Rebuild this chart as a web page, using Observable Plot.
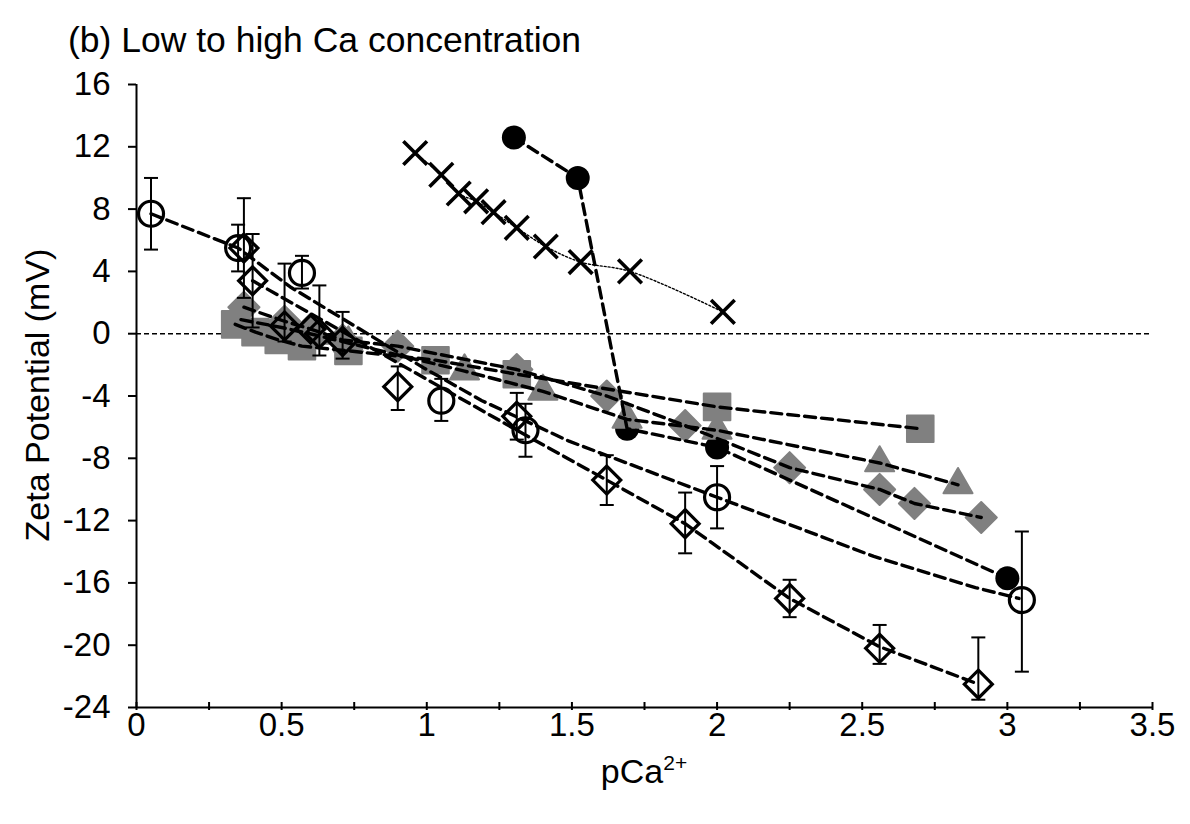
<!DOCTYPE html>
<html>
<head>
<meta charset="utf-8">
<script src="https://cdn.jsdelivr.net/npm/d3@7"></script>
<script src="https://cdn.jsdelivr.net/npm/@observablehq/plot@0.6"></script>
<style>
  body { margin: 0; background: #fff; }
  #chart { width: 1190px; height: 824px; }
</style>
</head>
<body>
<div id="chart"></div>
<script>
// ---------- tick values ----------
const xTickValues = [0, 0.25, 0.5, 0.75, 1, 1.25, 1.5, 1.75, 2, 2.25, 2.5, 2.75, 3, 3.25, 3.5];
const xTickLabels = ["0", "", "0.5", "", "1", "", "1.5", "", "2", "", "2.5", "", "3", "", "3.5"];
const yTickValues = [-24, -20, -16, -12, -8, -4, 0, 4, 8, 12, 16];

// ---------- open circles (with error bars) ----------
const ocX  = [0.05, 0.35, 0.57, 1.05, 1.34, 2.00, 3.05];
const ocY  = [7.7, 5.5, 3.9, -4.3, -6.2, -10.5, -17.1];
const ocLo = [5.4, 4.0, 2.9, -5.6, -7.9, -12.5, -21.7];
const ocHi = [10.0, 7.0, 5.0, -2.9, -4.5, -8.5, -12.7];
// dashed curve drawn with the open circles
const ocLineX = [0.05, 0.35, 0.53, 0.99, 1.19, 1.49, 2.00, 2.54, 2.89, 3.04];
const ocLineY = [7.7, 5.5, 3.0, -2.2, -4.3, -6.9, -10.5, -14.3, -16.3, -17.0];

// ---------- open diamonds (with error bars) ----------
const odX  = [0.37, 0.40, 0.51, 0.60, 0.63, 0.71, 0.90, 1.31, 1.62, 1.89, 2.25, 2.56, 2.90];
const odY  = [5.5, 3.4, 0.5, 0.3, 0.0, -0.5, -3.4, -5.3, -9.4, -12.2, -17.0, -20.2, -22.5];
const odLo = [2.3, 0.4, -0.5, null, -1.4, -1.6, -4.9, -6.8, -11.0, -14.1, -18.2, -21.2, -23.5];
const odHi = [8.7, 6.4, 4.5, null, 3.1, 1.4, -2.1, -3.8, -7.8, -10.2, -15.8, -18.7, -19.5];
// dashed curve drawn with the open diamonds
const odLineX = [0.40, 1.32, 1.62, 1.89, 2.25, 2.56, 2.90];
const odLineY = [3.4, -6.3, -9.4, -12.2, -17.0, -20.1, -22.5];

// ---------- filled black circles ----------
const bcX = [1.30, 1.52, 1.69, 2.00, 3.00];
const bcY = [12.6, 10.0, -6.1, -7.3, -15.7];

// ---------- crosses ----------
const crX = [0.96, 1.05, 1.11, 1.17, 1.23, 1.31, 1.41, 1.53, 1.70, 2.02];
const crY = [11.6, 10.2, 9.0, 8.5, 7.8, 6.8, 5.6, 4.6, 4.0, 1.4];

// ---------- grey squares ----------
const gsX = [0.34, 0.41, 0.49, 0.57, 0.73, 1.03, 1.31, 2.00, 2.70];
const gsY = [0.6, 0.1, -0.4, -0.8, -1.1, -1.7, -2.6, -4.7, -6.1];

// ---------- grey triangles ----------
const gtX = [0.36, 0.50, 0.62, 0.73, 1.13, 1.40, 1.69, 2.00, 2.56, 2.83];
const gtY = [0.9, 0.4, -0.1, -0.6, -2.4, -3.7, -5.5, -6.2, -8.3, -9.7];

// ---------- grey diamonds ----------
const gdX = [0.37, 0.51, 0.60, 0.71, 0.90, 1.31, 1.62, 1.89, 2.25, 2.56, 2.68, 2.91];
const gdY = [1.7, 0.8, 0.3, -0.4, -0.8, -2.3, -4.0, -5.9, -8.6, -10.0, -10.9, -11.8];

const zeroLine = [0];

// ---------- build tables ----------
const rows = (xs, ys) => xs.map((x, i) => ({x, y: ys[i]}));
const errRows = (xs, lo, hi) => xs.map((x, i) => ({x, lo: lo[i], hi: hi[i]})).filter(d => d.lo != null);
const xTicks = xTickValues.map((v, i) => ({v, label: xTickLabels[i]}));

const GREY = "#808080";
const FONT = "'Liberation Sans', Arial, Helvetica, sans-serif";
const capSymbol = {draw(ctx) { ctx.moveTo(-7, 0); ctx.lineTo(7, 0); }};
const dash = {stroke: "black", strokeWidth: 3.4, strokeDasharray: "11,6"};

const ocErr = errRows(ocX, ocLo, ocHi);
const odErr = errRows(odX, odLo, odHi);
const allErr = ocErr.concat(odErr);

const chart = Plot.plot({
  width: 1190,
  height: 824,
  marginLeft: 136,
  marginRight: 38,
  marginTop: 84,
  marginBottom: 117,
  style: {fontFamily: FONT, background: "white", color: "black", overflow: "visible"},
  x: {domain: [0, 3.5]},
  y: {domain: [-24, 16]},
  marks: [
    Plot.ruleY(zeroLine, {stroke: "black", strokeWidth: 1.5, strokeDasharray: "5,3"}),
    // filled black circles
    Plot.dot(rows(bcX, bcY), {x: "x", y: "y", r: 12, fill: "black", stroke: "none"}),
    // grey markers
    Plot.dot(rows(gtX, gtY), {x: "x", y: "y", symbol: "triangle", r: 10.8, fill: GREY, stroke: GREY, strokeWidth: 2, strokeLinejoin: "round"}),
    Plot.dot(rows(gsX, gsY), {x: "x", y: "y", symbol: "square", r: 15, fill: GREY, stroke: GREY, strokeWidth: 2, strokeLinejoin: "round"}),
    Plot.dot(rows(gdX, gdY), {x: "x", y: "y", symbol: "diamond2", r: 14, fill: GREY, stroke: GREY, strokeWidth: 2, strokeLinejoin: "round"}),
    // dashed lines
    Plot.line(rows(gsX, gsY), {x: "x", y: "y", ...dash}),
    Plot.line(rows(gtX, gtY), {x: "x", y: "y", ...dash}),
    Plot.line(rows(gdX, gdY), {x: "x", y: "y", ...dash}),
    Plot.line(rows(bcX, bcY), {x: "x", y: "y", ...dash}),
    Plot.line(rows(ocLineX, ocLineY), {x: "x", y: "y", ...dash}),
    Plot.line(rows(odLineX, odLineY), {x: "x", y: "y", ...dash}),
    // crosses line (thin dotted)
    Plot.line(rows(crX, crY), {x: "x", y: "y", stroke: "black", strokeWidth: 1.4, strokeDasharray: "2,2", curve: "catmull-rom"}),
    // error bars
    Plot.ruleX(allErr, {x: "x", y1: "lo", y2: "hi", stroke: "black", strokeWidth: 2}),
    Plot.dot(allErr, {x: "x", y: "lo", symbol: capSymbol, fill: "none", stroke: "black", strokeWidth: 2}),
    Plot.dot(allErr, {x: "x", y: "hi", symbol: capSymbol, fill: "none", stroke: "black", strokeWidth: 2}),
    // open markers
    Plot.dot(rows(ocX, ocY), {x: "x", y: "y", r: 12.5, fill: "none", stroke: "black", strokeWidth: 3.2}),
    Plot.dot(rows(odX, odY), {x: "x", y: "y", symbol: "diamond2", r: 12.6, fill: "none", stroke: "black", strokeWidth: 3.2}),
    Plot.dot(rows(crX, crY), {x: "x", y: "y", symbol: "times", r: 10.8, fill: "none", stroke: "black", strokeWidth: 3.6}),
    // axes
    Plot.ruleX([0], {stroke: "black", strokeWidth: 2}),
    Plot.ruleY([-24], {stroke: "black", strokeWidth: 2}),
    Plot.axisY({ticks: yTickValues, tickFormat: d => String(d), tickSize: 8, tickPadding: 18, fontSize: 33, strokeWidth: 2, label: null}),
    Plot.axisX({ticks: xTickValues, tickFormat: d => xTicks.find(t => t.v === d).label, tickSize: 8, tickPadding: 2, dy: -5, fontSize: 33, strokeWidth: 2, label: null})
  ]
});

document.getElementById("chart").appendChild(chart);

// titles as SVG text
const svg = d3.select(chart);
svg.append("text")
  .attr("x", 68).attr("y", 52)
  .attr("text-anchor", "start")
  .attr("font-size", 35.5).attr("fill", "black")
  .text("(b) Low to high Ca concentration");

svg.append("text")
  .attr("transform", "translate(49,395) rotate(-90)")
  .attr("text-anchor", "middle")
  .attr("font-size", 34).attr("fill", "black")
  .text("Zeta Potential (mV)");

const xl = svg.append("text")
  .attr("x", 644).attr("y", 783)
  .attr("text-anchor", "middle")
  .attr("font-size", 34).attr("fill", "black");
xl.append("tspan").text("pCa");
xl.append("tspan").attr("font-size", 21).attr("dy", -13).text("2+");
</script>
</body>
</html>
